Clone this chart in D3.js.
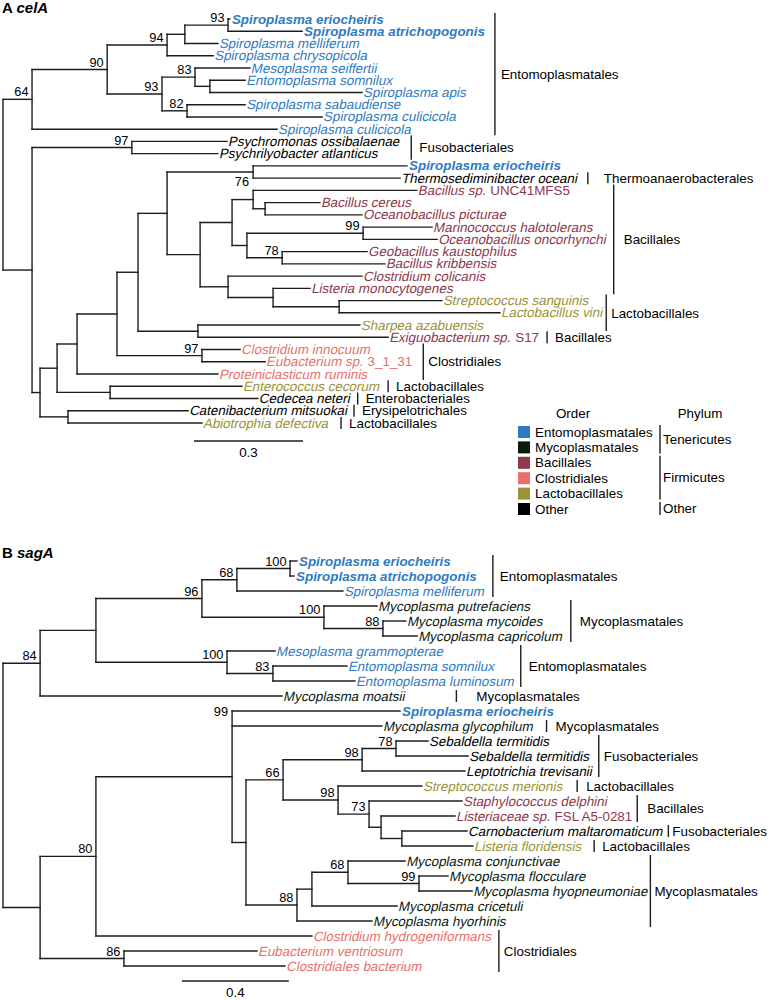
<!DOCTYPE html>
<html><head><meta charset="utf-8">
<script src="https://cdn.jsdelivr.net/npm/d3@7"></script>
<style>
body{margin:0;background:#fff}
svg{display:block}
text{font-family:"Liberation Sans",Arial,Helvetica,sans-serif}
</style>
</head><body>
<svg id="chart" width="769" height="1000"></svg>
<script>
// ---------- DATA ----------
const groupColors = {E:"#2f7bbf", M:"#0d1a10", B:"#8c3a4c", C:"#e8716e", L:"#9a9338", O:"#000000"};
const legendOrders = ["Entomoplasmatales","Mycoplasmatales","Bacillales","Clostridiales","Lactobacillales","Other"];
const legendKeys = ["E","M","B","C","L","O"];
const legendPhyla = [["Tenericutes",0,1],["Firmicutes",2,4],["Other",5,5]];

// Tree A (celA): internal nodes [id, parent, distance from root, bootstrap]
const nodesA = [
  ["aR",""   ,0.000,null],
  ["a64","aR",0.080,64],
  ["a90","a64",0.287,90],
  ["a94","a90",0.452,94],
  ["aE","a94",0.501,null],
  ["a93a","aE",0.620,93],
  ["a93b","a90",0.438,93],
  ["a83","a93b",0.529,83],
  ["aSo","a83",0.570,null],
  ["a82","a93b",0.507,82],
  ["aR2","aR",0.080,null],
  ["a97a","aR2",0.355,97],
  ["aX","aR2",0.102,null],
  ["aY","aX",0.149,null],
  ["aZ","aY",0.204,null],
  ["aW","aZ",0.314,null],
  ["aV","aW",0.372,null],
  ["aU","aV",0.452,null],
  ["a76","aU",0.689,76],
  ["aT","aU",0.543,null],
  ["aS","aT",0.631,null],
  ["aS1","aS",0.689,null],
  ["aCer","aS1",0.722,null],
  ["aS2","aS",0.672,null],
  ["a99","aS2",0.992,99],
  ["a78","aS2",0.769,78],
  ["aQ","aT",0.620,null],
  ["aP","aQ",0.744,null],
  ["aLac","aP",0.926,null],
  ["aSh","aV",0.537,null],
  ["a97c","aW",0.548,97],
  ["aEnt","aY",0.295,null],
  ["aCat","aX",0.179,null]
];
// Tree A leaves in display order: [italic name, roman suffix, parent, distance, order group, bold]
const leavesA = [
  ["Spiroplasma eriocheiris","","a93a",0.625,"E",1],
  ["Spiroplasma atrichopogonis","","a93a",0.824,"E",1],
  ["Spiroplasma melliferum","","aE",0.592,"E",0],
  ["Spiroplasma chrysopicola","","a94",0.579,"E",0],
  ["Mesoplasma seiffertii","","a83",0.680,"E",0],
  ["Entomoplasma somnilux","","aSo",0.667,"E",0],
  ["Spiroplasma apis","","aSo",0.989,"E",0],
  ["Spiroplasma sabaudiense","","a82",0.667,"E",0],
  ["Spiroplasma culicicola","","a82",0.879,"E",0],
  ["Spiroplasma culicicola","","a64",0.755,"E",0],
  ["Psychromonas ossibalaenae","","a97a",0.617,"O",0],
  ["Psychrilyobacter atlanticus","","a97a",0.592,"O",0],
  ["Spiroplasma eriocheiris","","a76",1.113,"E",1],
  ["Thermosediminibacter oceani","","a76",1.094,"O",0],
  ["Bacillus sp.","UNC41MFS5","aS1",1.140,"B",0],
  ["Bacillus cereus","","aCer",0.873,"B",0],
  ["Oceanobacillus picturae","","aCer",0.989,"B",0],
  ["Marinococcus halotolerans","","a99",1.182,"B",0],
  ["Oceanobacillus oncorhynchi","","a99",1.196,"B",0],
  ["Geobacillus kaustophilus","","a78",1.003,"B",0],
  ["Bacillus kribbensis","","a78",1.052,"B",0],
  ["Clostridium colicanis","","aQ",0.989,"B",0],
  ["Listeria monocytogenes","","aP",0.846,"B",0],
  ["Streptococcus sanguinis","","aLac",1.209,"L",0],
  ["Lactobacillus vini","","aLac",1.369,"L",0],
  ["Sharpea azabuensis","","aSh",0.983,"L",0],
  ["Exiguobacterium sp.","S17","aSh",1.061,"B",0],
  ["Clostridium innocuum","","a97c",0.653,"C",0],
  ["Eubacterium sp.","3_1_31","a97c",0.722,"C",0],
  ["Proteiniclasticum ruminis","","aZ",0.592,"C",0],
  ["Enterococcus cecorum","","aEnt",0.658,"L",0],
  ["Cedecea neteri","","aEnt",0.702,"O",0],
  ["Catenibacterium mitsuokai","","aCat",0.510,"O",0],
  ["Abiotrophia defectiva","","aCat",0.548,"L",0]
];
// Tree A order brackets: [label, first leaf, last leaf, extra pad, text gap]
const bracketsA = [
  ["Entomoplasmatales",0,9,2,6],
  ["Fusobacteriales",10,11,3,8],
  ["Thermoanaerobacterales",13,13,2,16],
  ["Bacillales",14,22,-1,10],
  ["Lactobacillales",23,25,-5,5],
  ["Bacillales",26,26,0,8],
  ["Clostridiales",27,29,3,5],
  ["Lactobacillales",30,30,0,8],
  ["Enterobacteriales",31,31,-1,8],
  ["Erysipelotrichales",32,32,-2,8],
  ["Lactobacillales",33,33,4,8]
];

// Tree B (sagA)
const nodesB = [
  ["bR","",0.000,null],
  ["b84","bR",0.139,84],
  ["bN1","b84",0.348,null],
  ["b96","bN1",0.745,96],
  ["b68","b96",0.876,68],
  ["b100a","b68",1.075,100],
  ["b100b","b96",1.202,100],
  ["b88a","b100b",1.423,88],
  ["b100c","bN1",0.839,100],
  ["b83","b100c",1.011,83],
  ["bN2","bR",0.139,null],
  ["b80","bN2",0.348,80],
  ["b99","b80",0.858,99],
  ["bK","b99",0.910,null],
  ["b66","bK",1.049,66],
  ["b98a","b66",1.345,98],
  ["b78","b98a",1.472,78],
  ["b98b","b66",1.255,98],
  ["b73","b98b",1.371,73],
  ["bJ","b73",1.416,null],
  ["bI","bJ",1.494,null],
  ["b88b","bK",1.101,88],
  ["b68b","b88b",1.157,null],
  ["bH","b68b",1.292,68],
  ["b99b","bH",1.558,99],
  ["b86","bN2",0.453,86]
];
const leavesB = [
  ["Spiroplasma eriocheiris","","b100a",1.101,"E",1],
  ["Spiroplasma atrichopogonis","","b100a",1.090,"E",1],
  ["Spiroplasma melliferum","","b68",1.273,"E",0],
  ["Mycoplasma putrefaciens","","b100b",1.401,"M",0],
  ["Mycoplasma mycoides","","b88a",1.509,"M",0],
  ["Mycoplasma capricolum","","b88a",1.551,"M",0],
  ["Mesoplasma grammopterae","","b100c",1.019,"E",0],
  ["Entomoplasma somnilux","","b83",1.288,"E",0],
  ["Entomoplasma luminosum","","b83",1.318,"E",0],
  ["Mycoplasma moatsii","","b84",1.045,"M",0],
  ["Spiroplasma eriocheiris","","b99",1.487,"E",1],
  ["Mycoplasma glycophilum","","b99",1.419,"M",0],
  ["Sebaldella termitidis","","b78",1.592,"O",0],
  ["Sebaldella termitidis","","b78",1.742,"O",0],
  ["Leptotrichia trevisanii","","b98a",1.730,"O",0],
  ["Streptococcus merionis","","b98b",1.569,"L",0],
  ["Staphylococcus delphini","","b73",1.719,"B",0],
  ["Listeriaceae sp.","FSL A5-0281","bJ",1.693,"B",0],
  ["Carnobacterium maltaromaticum","","bI",1.738,"O",0],
  ["Listeria floridensis","","bI",1.760,"L",0],
  ["Mycoplasma conjunctivae","","bH",1.506,"M",0],
  ["Mycoplasma flocculare","","b99b",1.667,"M",0],
  ["Mycoplasma hyopneumoniae","","b99b",1.757,"M",0],
  ["Mycoplasma cricetuli","","b68b",1.476,"M",0],
  ["Mycoplasma hyorhinis","","b88b",1.382,"M",0],
  ["Clostridium hydrogeniformans","","b80",1.157,"C",0],
  ["Eubacterium ventriosum","","b86",0.951,"C",0],
  ["Clostridiales bacterium","","b86",1.056,"C",0]
];
const bracketsB = [
  ["Entomoplasmatales",0,2,0,7],
  ["Mycoplasmatales",3,5,0,9],
  ["Entomoplasmatales",6,8,-2,8],
  ["Mycoplasmatales",9,9,43,20],
  ["Mycoplasmatales",11,11,5,9],
  ["Fusobacteriales",12,14,-2,5],
  ["Lactobacillales",15,15,6,9],
  ["Bacillales",16,17,-3,10],
  ["Fusobacteriales",18,18,-3,4],
  ["Lactobacillales",19,19,4,8],
  ["Mycoplasmatales",20,24,-6,4],
  ["Clostridiales",25,27,-1,5]
];

// ---------- DRAWING ----------
const svg = d3.select("#chart");
const LINE = "#1c1c1c";
const FS = 13.4;

function drawTree(cfg){
  const g = svg.append("g");
  const rows = cfg.nodes.map(d=>({id:d[0], parent:d[1]||null, dist:d[2], support:d[3]}))
    .concat(cfg.leaves.map((d,i)=>({id:cfg.key+"L"+i, parent:d[2], dist:d[3], name:d[0], suffix:d[1], group:d[4], bold:d[5], idx:i})));
  const root = d3.stratify().id(d=>d.id).parentId(d=>d.parent)(rows);
  const x = d3.scaleLinear().domain([0,1]).range(cfg.xRange);
  const y = d3.scaleLinear().domain([0,cfg.leaves.length-1]).range(cfg.yRange);
  root.eachAfter(n=>{
    n.px = x(n.data.dist);
    if(!n.children){ n.py = y(n.data.idx); }
    else { const ys = n.children.map(c=>c.py); n.top=d3.min(ys); n.bot=d3.max(ys); n.py=(n.top+n.bot)/2; }
  });
  const segs = [];
  root.each(n=>{
    if(n.parent) segs.push([n.parent.px, n.py, n.px, n.py]);
    if(n.children) segs.push([n.px, n.top, n.px, n.bot]);
  });
  g.selectAll("line.br").data(segs).join("line").attr("class","br")
    .attr("x1",d=>d[0]).attr("y1",d=>d[1]).attr("x2",d=>d[2]).attr("y2",d=>d[3])
    .attr("stroke",LINE).attr("stroke-width",1.4).attr("stroke-linecap","square");
  // bootstrap labels
  const sup = root.descendants().filter(n=>n.children && n.data.support!=null);
  g.selectAll("text.sup").data(sup).join("text").attr("class","sup")
    .attr("text-anchor","end").attr("font-size",12.8).attr("fill","#000")
    .attr("x",n=>{const p=cfg.supportPos[n.id]; return n.px-(p?4:3.5);})
    .attr("y",n=>{const p=cfg.supportPos[n.id];
       if(p==="below") return n.py+14;
       if(p==="top") return n.top+4.5;
       return n.py-3;})
    .text(n=>n.data.support);
  // leaf labels (regular italic drawn as skewed regular face to keep Arial metrics)
  const leaves = root.leaves();
  const ends = [];
  leaves.forEach(n=>{
    const x0 = n.px+2, col = groupColors[n.data.group];
    let t;
    if(n.data.bold){
      t = g.append("text").attr("x",x0).attr("y",n.py)
        .attr("font-style","italic").attr("font-weight","bold");
    } else {
      t = g.append("text").attr("transform",`translate(${x0},${n.py}) skewX(-12)`);
    }
    t.attr("dy","0.34em").attr("font-size",FS).attr("fill",col).text(n.data.name);
    let end = x0 + t.node().getComputedTextLength();
    if(n.data.suffix){
      const s = g.append("text").attr("x",end+3.7).attr("y",n.py).attr("dy","0.34em")
        .attr("font-size",FS).attr("fill",col).text(n.data.suffix);
      end = end + 3.7 + s.node().getComputedTextLength();
    }
    ends[n.data.idx] = end;
  });
  // order brackets
  cfg.brackets.forEach(b=>{
    const bx = d3.max(d3.range(b[1],b[2]+1),i=>ends[i]) + 8 + b[3];
    const y0 = y(b[1])-6, y1 = y(b[2])+6;
    g.append("line").attr("x1",bx).attr("x2",bx).attr("y1",y0).attr("y2",y1)
      .attr("stroke",LINE).attr("stroke-width",1.4);
    g.append("text").attr("x",bx+b[4]).attr("y",(y0+y1)/2).attr("dy","0.35em")
      .attr("font-size",FS).attr("fill","#000").text(b[0]);
  });
  // scale bar
  const sb = cfg.scaleBar;
  const len = x(sb.value)-x(0);
  g.append("line").attr("x1",sb.x).attr("x2",sb.x+len).attr("y1",sb.y).attr("y2",sb.y)
    .attr("stroke",LINE).attr("stroke-width",1.4);
  g.append("text").attr("x",sb.x+len/2).attr("y",sb.y+16).attr("text-anchor","middle")
    .attr("font-size",FS).text(sb.value);
  // title
  const tt = g.append("text").attr("x",2).attr("y",cfg.titleY).attr("font-size",15).attr("font-weight","bold");
  tt.append("tspan").text(cfg.title[0]+" ");
  tt.append("tspan").attr("font-style","italic").text(cfg.title[1]);
}

drawTree({key:"A", nodes:nodesA, leaves:leavesA, brackets:bracketsA,
  xRange:[3,366], yRange:[19,423], supportPos:{a76:"below"},
  scaleBar:{value:0.3, x:194, y:441}, title:["A","celA"], titleY:13});
drawTree({key:"B", nodes:nodesB, leaves:leavesB, brackets:bracketsB,
  xRange:[3,270], yRange:[561,966], supportPos:{b99:"top"},
  scaleBar:{value:0.4, x:182, y:981}, title:["B","sagA"], titleY:558});

// legend
const lg = svg.append("g");
lg.append("text").attr("x",573).attr("y",413).attr("dy","0.35em").attr("text-anchor","middle").attr("font-size",FS).text("Order");
lg.append("text").attr("x",700).attr("y",413).attr("dy","0.35em").attr("text-anchor","middle").attr("font-size",FS).text("Phylum");
const ly = d3.scaleLinear().domain([0,5]).range([432,509]);
legendOrders.forEach((o,i)=>{
  lg.append("rect").attr("x",518).attr("y",ly(i)-6).attr("width",12).attr("height",12).attr("fill",groupColors[legendKeys[i]]);
  lg.append("text").attr("x",535).attr("y",ly(i)).attr("dy","0.35em").attr("font-size",FS).text(o);
});
legendPhyla.forEach(p=>{
  const y0 = ly(p[1])-7, y1 = ly(p[2])+6;
  lg.append("line").attr("x1",660).attr("x2",660).attr("y1",y0).attr("y2",y1).attr("stroke",LINE).attr("stroke-width",1.4);
  lg.append("text").attr("x",663).attr("y",(y0+y1)/2).attr("dy","0.35em").attr("font-size",FS).text(p[0]);
});
</script>
</body></html>
